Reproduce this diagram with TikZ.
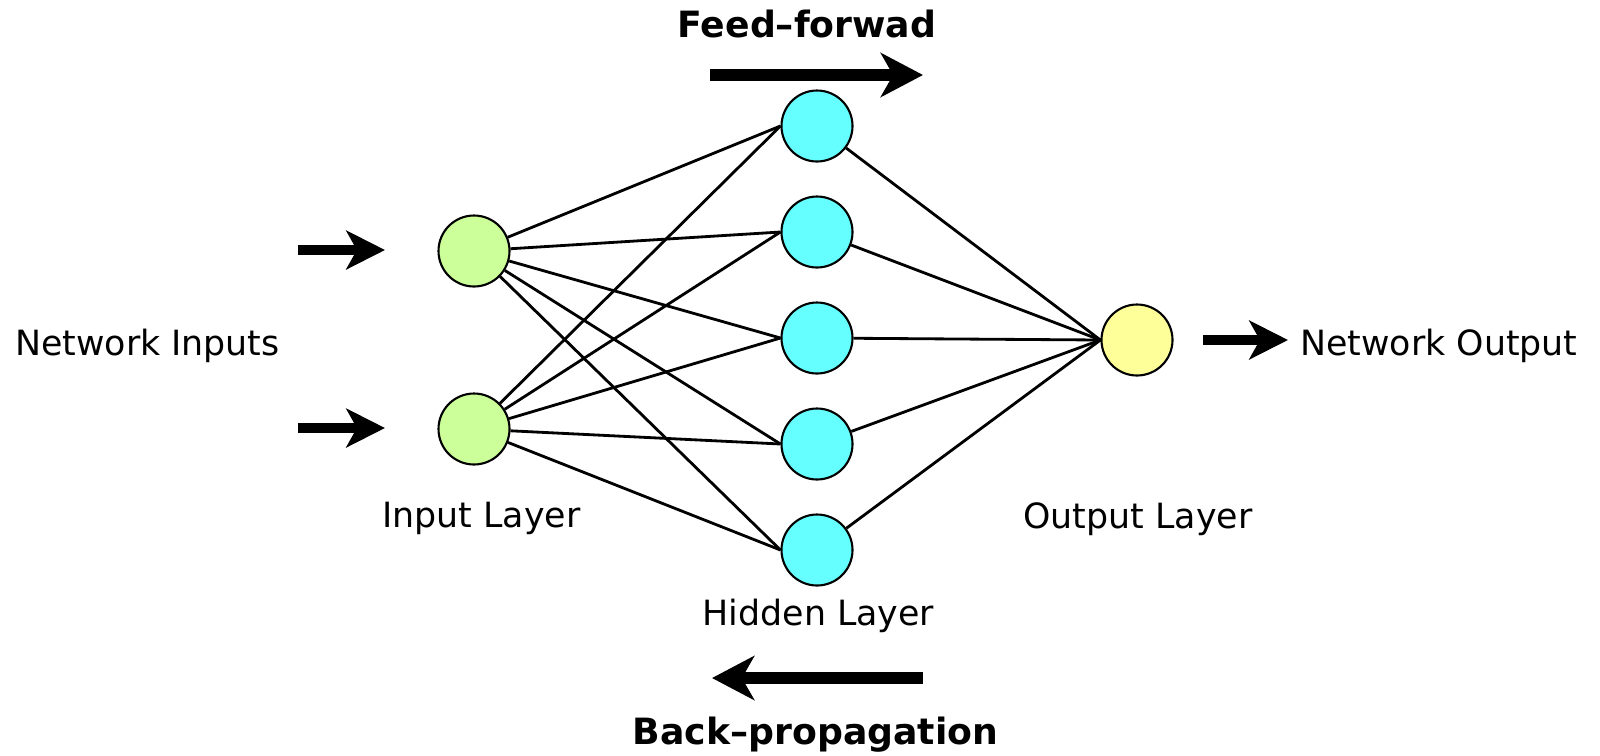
\documentclass[tikz,border=0pt]{standalone}
\usepackage{fontspec}
\setmainfont{DejaVu Sans}
\usepackage{xcolor}
\usepackage{tikz}
\usetikzlibrary{positioning,arrows.meta}
\definecolor{ingreen}{RGB}{204,255,153}
\definecolor{hidcyan}{RGB}{102,255,255}
\definecolor{outyellow}{RGB}{255,255,153}

\begin{document}
\begin{tikzpicture}[every node/.style={font=\fontsize{9.9}{12}\selectfont},
  neuron/.style={circle,draw,line width=0.6pt,minimum size=0.71cm,inner sep=0pt},
  link/.style={line width=0.8pt},
  inarrow/.style={line width=2.6pt,-{Stealth[length=11pt,width=11pt,inset=3pt]}},
  flowarrow/.style={line width=3.3pt,-{Stealth[length=12pt,width=12.5pt,inset=3.5pt]}},
  title/.style={font=\fontsize{10.3}{12}\selectfont\bfseries}]
  \useasboundingbox (0,0) rectangle (16,7.55);
  % layers
  \node[neuron,fill=ingreen] (in1) at (4.74,5.04) {};
  \node[neuron,fill=ingreen] (in2) at (4.74,3.26) {};
  \foreach \i/\y in {1/6.29,2/5.23,3/4.17,4/3.11,5/2.05}
    \node[neuron,fill=hidcyan] (h\i) at (8.17,\y) {};
  \node[neuron,fill=outyellow] (out) at (11.37,4.15) {};
  % connections
  \foreach \i in {1,2}
    \foreach \j in {1,...,5}
      \draw[link] (in\i) -- (h\j.west);
  \foreach \j in {1,...,5}
    \draw[link] (h\j) -- (out.west);
  % inputs and output
  \node[anchor=base] (netin) at (1.475,4.00) {Network Inputs};
  \coordinate (a1) at (2.98,5.05);
  \coordinate (b1) at (3.85,5.05);
  \coordinate (a2) at (2.98,3.27);
  \coordinate (b2) at (3.85,3.27);
  \draw[inarrow] (a1) -- (b1);
  \draw[inarrow] (a2) -- (b2);
  \node[anchor=base west] (netout) at (12.88,4.00) {Network Output};
  \coordinate (c1) at (12.03,4.15);
  \draw[inarrow] (c1) -- (c1 -| netout.west);
  % layer labels
  \node[anchor=base] (inlab) at (4.815,2.28) {Input Layer};
  \node[anchor=base] (hidlab) at (8.185,1.30) {Hidden Layer};
  \node[anchor=base] (outlab) at (11.38,2.27) {Output Layer};
  % direction of flow
  \node[title,anchor=base] (ff) at (8.07,7.18) {Feed--forwad};
  \coordinate (f1) at (7.10,6.80);
  \coordinate (f2) at (9.23,6.80);
  \draw[flowarrow] (f1) -- (f2);
  \node[title,anchor=base] (bp) at (8.155,0.11) {Back--propagation};
  \coordinate (g1) at (9.23,0.77);
  \coordinate (g2) at (7.12,0.77);
  \draw[flowarrow] (g1) -- (g2);
\end{tikzpicture}
\end{document}
